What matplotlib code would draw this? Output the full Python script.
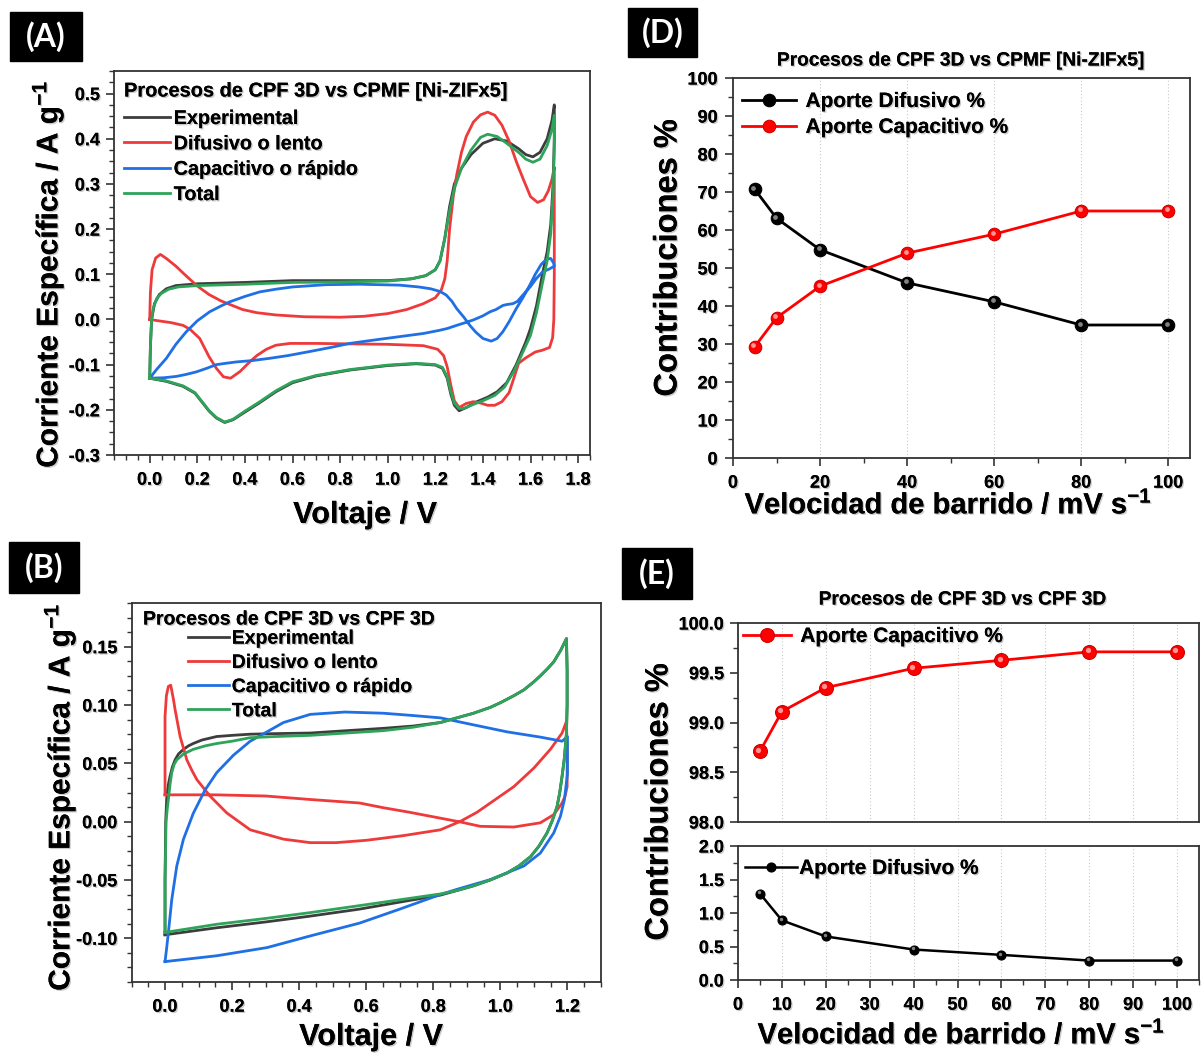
import matplotlib
matplotlib.use('Agg')
import matplotlib.pyplot as plt
from matplotlib.ticker import MultipleLocator, FormatStrFormatter
from matplotlib.patches import Rectangle
from matplotlib.transforms import ScaledTranslation
import matplotlib.patheffects as pe
from matplotlib.text import Text

plt.rcParams['font.family'] = ['Liberation Sans', 'DejaVu Sans']
plt.rcParams['font.weight'] = 'bold'
plt.rcParams['mathtext.fontset'] = 'custom'
plt.rcParams['mathtext.rm'] = 'Liberation Sans:bold'
plt.rcParams['mathtext.default'] = 'rm'

# ---------------- data: panel A (CPF 3D vs CPMF [Ni-ZIFx5]) ----------------
A_exp_V = [0.0, 0.003, 0.008, 0.02, 0.04, 0.07, 0.11, 0.2, 0.4, 0.6, 0.8, 1.0, 1.1, 1.16, 1.2, 1.22, 1.24, 1.26,
           1.28, 1.31, 1.35, 1.40, 1.45, 1.50, 1.55, 1.58, 1.61, 1.64, 1.67, 1.69, 1.70,
           1.70, 1.695, 1.685, 1.67, 1.65, 1.625, 1.60, 1.58, 1.54, 1.50, 1.46, 1.42, 1.37, 1.33, 1.30, 1.28,
           1.265, 1.25, 1.23, 1.20, 1.12, 1.0, 0.84, 0.7, 0.6, 0.53, 0.46, 0.40, 0.35, 0.315, 0.28, 0.25, 0.22,
           0.19, 0.14, 0.07, 0.0]
A_exp_I = [-0.13, -0.06, 0.0, 0.035, 0.055, 0.068, 0.075, 0.079, 0.082, 0.086, 0.086, 0.086, 0.09, 0.097, 0.11,
           0.13, 0.18, 0.25, 0.30, 0.335, 0.365, 0.39, 0.40, 0.395, 0.378, 0.365, 0.36, 0.37, 0.40, 0.44, 0.475,
           0.40, 0.30, 0.21, 0.15, 0.10, 0.03, -0.02, -0.05, -0.10, -0.14, -0.16, -0.172, -0.183, -0.195, -0.202,
           -0.19, -0.165, -0.13, -0.108, -0.101, -0.098, -0.102, -0.112, -0.125, -0.14, -0.16, -0.185, -0.205,
           -0.222, -0.228, -0.218, -0.203, -0.183, -0.163, -0.148, -0.137, -0.13]

A_dif_V = [0.0, 0.003, 0.01, 0.025, 0.045, 0.07, 0.11, 0.15, 0.2, 0.25, 0.3, 0.39, 0.45, 0.53, 0.65, 0.8, 0.9, 1.0,
           1.08, 1.15, 1.2, 1.225, 1.24, 1.25, 1.26, 1.275, 1.29, 1.31, 1.33, 1.36, 1.39, 1.42, 1.45, 1.48, 1.51,
           1.54, 1.57, 1.60, 1.63, 1.655, 1.675, 1.69, 1.70,
           1.70, 1.70, 1.698, 1.693, 1.68, 1.65, 1.62, 1.58, 1.55, 1.53, 1.51, 1.48, 1.45, 1.42, 1.39, 1.36, 1.33,
           1.30, 1.28, 1.265, 1.25, 1.235, 1.21, 1.15, 1.0, 0.84, 0.7, 0.59, 0.53, 0.49, 0.45, 0.42, 0.38, 0.34,
           0.31, 0.28, 0.25, 0.21, 0.17, 0.14, 0.09, 0.05, 0.0]
A_dif_I = [0.0, 0.06, 0.11, 0.136, 0.144, 0.135, 0.118, 0.098, 0.074, 0.055, 0.041, 0.022, 0.015, 0.01, 0.006,
           0.005, 0.007, 0.013, 0.022, 0.035, 0.048, 0.065, 0.09, 0.13, 0.2, 0.27, 0.32, 0.37, 0.405, 0.437, 0.453,
           0.459, 0.452, 0.43, 0.395, 0.35, 0.31, 0.272, 0.259, 0.265, 0.285, 0.31, 0.337,
           0.25, 0.10, 0.0, -0.04, -0.062, -0.068, -0.072, -0.085, -0.097, -0.13, -0.162, -0.182, -0.19, -0.19,
           -0.185, -0.182, -0.186, -0.195, -0.18, -0.145, -0.105, -0.08, -0.066, -0.058, -0.055, -0.054, -0.053,
           -0.053, -0.057, -0.066, -0.08, -0.094, -0.115, -0.13, -0.127, -0.108, -0.083, -0.042, -0.022, -0.013,
           -0.007, -0.004, 0.0]

A_cap_V = [0.0, 0.03, 0.07, 0.11, 0.154, 0.2, 0.252, 0.3, 0.336, 0.4, 0.462, 0.53, 0.6, 0.74, 0.88, 1.05, 1.13,
           1.18, 1.22, 1.246, 1.27, 1.29, 1.32, 1.345, 1.37, 1.40, 1.435, 1.46, 1.484, 1.51, 1.54, 1.57, 1.597,
           1.62, 1.645, 1.668, 1.685, 1.697, 1.70,
           1.68, 1.65, 1.625, 1.60, 1.568, 1.545, 1.526, 1.50, 1.484, 1.455, 1.43, 1.40, 1.36, 1.32, 1.29, 1.25,
           1.218, 1.15, 1.05, 0.95, 0.84, 0.76, 0.672, 0.58, 0.504, 0.43, 0.364, 0.32, 0.28, 0.24, 0.196, 0.15,
           0.112, 0.06, 0.0]
A_cap_I = [-0.13, -0.11, -0.086, -0.055, -0.027, -0.003, 0.017, 0.03, 0.039, 0.051, 0.061, 0.067, 0.072, 0.077,
           0.078, 0.076, 0.072, 0.068, 0.062, 0.054, 0.04, 0.024, 0.005, -0.013, -0.028, -0.042, -0.048, -0.042,
           -0.027, -0.005, 0.024, 0.05, 0.076, 0.1, 0.122, 0.134, 0.135, 0.125, 0.118,
           0.112, 0.105, 0.091, 0.073, 0.054, 0.04, 0.035, 0.033, 0.031, 0.022, 0.017, 0.008, -0.001, -0.008,
           -0.013, -0.02, -0.024, -0.031, -0.038, -0.045, -0.053, -0.062, -0.071, -0.08, -0.086, -0.091, -0.094,
           -0.097, -0.10, -0.108, -0.116, -0.122, -0.126, -0.129, -0.13]

A_tot_V = [0.0, 0.003, 0.008, 0.015, 0.03, 0.05, 0.08, 0.12, 0.2, 0.4, 0.6, 0.8, 1.0, 1.1, 1.16, 1.2, 1.22, 1.24,
           1.26, 1.28, 1.31, 1.35, 1.39, 1.42, 1.46, 1.50, 1.55, 1.58, 1.61, 1.64, 1.67, 1.69, 1.70,
           1.70, 1.695, 1.685, 1.67, 1.65, 1.625, 1.60, 1.57, 1.53, 1.49, 1.45, 1.40, 1.36, 1.32, 1.30, 1.28,
           1.265, 1.25, 1.23, 1.20, 1.12, 1.0, 0.84, 0.7, 0.6, 0.53, 0.46, 0.40, 0.35, 0.315, 0.28, 0.25, 0.22,
           0.19, 0.14, 0.07, 0.0]
A_tot_I = [-0.13, -0.06, 0.0, 0.025, 0.047, 0.058, 0.067, 0.072, 0.075, 0.078, 0.082, 0.083, 0.085, 0.09, 0.097,
           0.11, 0.13, 0.18, 0.24, 0.29, 0.335, 0.375, 0.403, 0.41, 0.405, 0.39, 0.37, 0.355, 0.348, 0.355, 0.385,
           0.42, 0.452,
           0.38, 0.28, 0.19, 0.13, 0.08, 0.015, -0.035, -0.07, -0.115, -0.15, -0.168, -0.18, -0.188, -0.197,
           -0.197, -0.185, -0.16, -0.127, -0.106, -0.100, -0.097, -0.101, -0.111, -0.124, -0.138, -0.158, -0.183,
           -0.203, -0.221, -0.227, -0.217, -0.202, -0.182, -0.162, -0.147, -0.136, -0.13]

# ---------------- data: panel B (CPF 3D vs CPF 3D) ----------------
B_exp_V = [0.0, 0.0, 0.002, 0.005, 0.01, 0.015, 0.022, 0.03, 0.04, 0.055, 0.07, 0.084, 0.11, 0.154, 0.2, 0.254,
           0.33, 0.433, 0.54, 0.65, 0.74, 0.821, 0.87, 0.92, 0.97, 1.0, 1.04, 1.07, 1.1, 1.119, 1.14, 1.159, 1.18,
           1.197,
           1.199, 1.199, 1.197, 1.191, 1.184, 1.177, 1.169, 1.155, 1.139, 1.115, 1.09, 1.055, 1.02, 0.97, 0.92,
           0.871, 0.821, 0.7, 0.58, 0.433, 0.3, 0.154, 0.0]
B_exp_I = [-0.097, -0.05, 0.0, 0.02, 0.032, 0.039, 0.047, 0.053, 0.058, 0.062, 0.065, 0.067, 0.070, 0.073, 0.074,
           0.075, 0.0755, 0.076, 0.078, 0.08, 0.082, 0.085, 0.089, 0.093, 0.098, 0.102, 0.108, 0.113, 0.12, 0.125,
           0.131, 0.137, 0.147, 0.157,
           0.13, 0.10, 0.076, 0.055, 0.039, 0.025, 0.013, 0.001, -0.0097, -0.021, -0.030, -0.038, -0.044, -0.050,
           -0.055, -0.059, -0.063, -0.069, -0.075, -0.081, -0.086, -0.091, -0.097]

B_dif_V = [0.0, 0.0, 0.004, 0.01, 0.017, 0.025, 0.03, 0.045, 0.065, 0.08, 0.095, 0.134, 0.184, 0.254, 0.353,
           0.433, 0.51, 0.6, 0.71, 0.821, 0.881, 0.93, 0.97, 1.04, 1.10, 1.149, 1.184, 1.197,
           1.199, 1.199, 1.193, 1.184, 1.159, 1.119, 1.04, 0.94, 0.881, 0.821, 0.73, 0.65, 0.58, 0.433, 0.3, 0.15,
           0.0]
B_dif_I = [0.023, 0.09, 0.108, 0.116, 0.117, 0.105, 0.096, 0.073, 0.053, 0.044, 0.036, 0.022, 0.0075, -0.007,
           -0.015, -0.018, -0.018, -0.016, -0.012, -0.007, 0.0003, 0.008, 0.016, 0.030, 0.046, 0.062, 0.076, 0.086,
           0.06, 0.030, 0.022, 0.016, 0.006, -0.001, -0.0046, -0.004, -0.0003, 0.003, 0.008, 0.012, 0.016, 0.019,
           0.022, 0.023, 0.023]

B_cap_V = [0.0, 0.005, 0.01, 0.02, 0.035, 0.055, 0.084, 0.119, 0.154, 0.204, 0.254, 0.304, 0.353, 0.433, 0.536,
           0.65, 0.74, 0.821, 0.92, 1.02, 1.119, 1.184, 1.2,
           1.2, 1.191, 1.179, 1.159, 1.119, 1.07, 0.97, 0.871, 0.821, 0.7, 0.58, 0.433, 0.304, 0.154, 0.0]
B_cap_I = [-0.12, -0.108, -0.095, -0.067, -0.038, -0.015, 0.007, 0.027, 0.042, 0.057, 0.069, 0.077, 0.085, 0.092,
           0.094, 0.093, 0.091, 0.089, 0.083, 0.077, 0.0725, 0.069, 0.073,
           0.041, 0.019, 0.0046, -0.0097, -0.027, -0.038, -0.0497, -0.058, -0.0625, -0.075, -0.087, -0.098,
           -0.108, -0.115, -0.12]

B_tot_V = [0.0, 0.0, 0.003, 0.007, 0.01, 0.015, 0.02, 0.027, 0.035, 0.055, 0.084, 0.12, 0.154, 0.2, 0.254, 0.33,
           0.433, 0.54, 0.65, 0.74, 0.821, 0.87, 0.92, 0.97, 1.0, 1.04, 1.07, 1.1, 1.119, 1.14, 1.159, 1.18, 1.197,
           1.199, 1.199, 1.197, 1.191, 1.184, 1.177, 1.169, 1.155, 1.139, 1.115, 1.09, 1.055, 1.02, 0.97, 0.92,
           0.871, 0.821, 0.7, 0.58, 0.433, 0.3, 0.154, 0.0]
B_tot_I = [-0.095, -0.05, 0.0, 0.012, 0.019, 0.032, 0.042, 0.049, 0.053, 0.058, 0.062, 0.065, 0.067, 0.069, 0.072,
           0.073, 0.074, 0.076, 0.078, 0.081, 0.085, 0.089, 0.093, 0.098, 0.102, 0.108, 0.113, 0.12, 0.125, 0.131,
           0.137, 0.147, 0.157,
           0.13, 0.10, 0.076, 0.055, 0.039, 0.025, 0.013, 0.001, -0.0097, -0.021, -0.030, -0.038, -0.044, -0.050,
           -0.055, -0.059, -0.062, -0.067, -0.072, -0.078, -0.083, -0.088, -0.095]

# ---------------- data: panels D and E ----------------
scan_rate = [5, 10, 20, 40, 60, 80, 100]
D_difusivo = [70.7, 63.1, 54.8, 46.1, 41.1, 35.0, 35.0]
D_capacitivo = [29.3, 36.9, 45.2, 53.9, 58.9, 65.0, 65.0]
E_capacitivo = [98.71, 99.11, 99.35, 99.545, 99.625, 99.71, 99.71]
E_difusivo = [1.29, 0.89, 0.65, 0.455, 0.375, 0.29, 0.29]

cv_labels = ['Experimental', 'Difusivo o lento', 'Capacitivo o rápido', 'Total']
title_A = 'Procesos de CPF 3D vs CPMF [Ni-ZIFx5]'
title_B = 'Procesos de CPF 3D vs CPF 3D'

C_EXP, C_DIF, C_CAP, C_TOT = '#3d3d3d', '#ee3a3a', '#1f6fe5', '#2ea35a'

W, H = 1201, 1053
fig = plt.figure(figsize=(W / 100, H / 100), dpi=100)


def box(l, t, r, b):
    return [l / W, 1 - b / H, (r - l) / W, (b - t) / H]


def fx(x):
    return x / W


def fy(y):
    return 1 - y / H


def style(ax, xmaj, xmin, ymaj, ymin, xfmt, yfmt, xpad=5, ypad=4):
    for s in ax.spines.values():
        s.set_color('#333333')
        s.set_linewidth(1.3)
    ax.tick_params(which='both', direction='out', top=False, right=False, colors='#333333',
                   labelcolor='black', labelsize=13)
    ax.tick_params(which='major', length=6, width=1.2)
    ax.tick_params(which='minor', length=3.5, width=1.0)
    ax.tick_params(axis='x', pad=xpad)
    ax.tick_params(axis='y', pad=ypad)
    ax.xaxis.set_major_locator(MultipleLocator(xmaj))
    ax.xaxis.set_minor_locator(MultipleLocator(xmin))
    ax.yaxis.set_major_locator(MultipleLocator(ymaj))
    ax.yaxis.set_minor_locator(MultipleLocator(ymin))
    ax.xaxis.set_major_formatter(FormatStrFormatter(xfmt))
    ax.yaxis.set_major_formatter(FormatStrFormatter(yfmt))


label_texts = []


def panel_label(l, t, r, b, txt):
    fig.patches.append(Rectangle((l / W, 1 - b / H), (r - l) / W, (b - t) / H,
                                 transform=fig.transFigure, color='black', zorder=5))
    tt = fig.text((l + r) / 2 / W, 1 - (t + b) / 2 / H, txt, color='white', ha='center', va='center',
                  fontsize=23, family=['Lato', 'DejaVu Sans'], weight='bold', zorder=6)
    label_texts.append(tt)


# ---------------- Panel A ----------------
axA = fig.add_axes(box(114, 71, 590, 455))
lA = []
for V, I, c, lab in [(A_exp_V, A_exp_I, C_EXP, cv_labels[0]), (A_dif_V, A_dif_I, C_DIF, cv_labels[1]),
                     (A_cap_V, A_cap_I, C_CAP, cv_labels[2]), (A_tot_V, A_tot_I, C_TOT, cv_labels[3])]:
    ln, = axA.plot(V, I, color=c, lw=2.0, label=lab, solid_joinstyle='round')
    lA.append(ln)
axA.set_xlim(-0.15, 1.85)
axA.set_ylim(-0.3, 0.55)
style(axA, 0.2, 0.05, 0.1, 0.025, '%.1f', '%.1f', xpad=6, ypad=4)
axA.legend(handles=lA, loc='upper left', bbox_to_anchor=(fx(124), fy(109)), bbox_transform=fig.transFigure,
           frameon=False, borderpad=0, borderaxespad=0, handlelength=2.3, handletextpad=0.2,
           labelspacing=0.32, prop={'size': 14.3, 'weight': 'bold'})
fig.text(fx(124), fy(91), title_A, ha='left', va='center', fontsize=14.4, weight='bold')
fig.text(fx(48), fy(274), 'Corriente Específica / A g$^{-1}$', rotation=90, ha='center', va='center',
         fontsize=21.5, weight='bold')
fig.text(fx(365), fy(515), 'Voltaje / V', ha='center', va='center', fontsize=22, weight='bold')
panel_label(10, 12, 82, 61, '(A)')

# ---------------- Panel B ----------------
axB = fig.add_axes(box(131.5, 603, 601, 982))
lB = []
for V, I, c, lab in [(B_exp_V, B_exp_I, C_EXP, cv_labels[0]), (B_dif_V, B_dif_I, C_DIF, cv_labels[1]),
                     (B_cap_V, B_cap_I, C_CAP, cv_labels[2]), (B_tot_V, B_tot_I, C_TOT, cv_labels[3])]:
    ln, = axB.plot(V, I, color=c, lw=2.0, label=lab, solid_joinstyle='round')
    lB.append(ln)
axB.set_xlim(-0.1, 1.3)
axB.set_ylim(-0.1375, 0.1875)
style(axB, 0.2, 0.05, 0.05, 0.0125, '%.1f', '%.2f', xpad=6, ypad=4)
axB.legend(handles=lB, loc='upper left', bbox_to_anchor=(fx(188), fy(630)), bbox_transform=fig.transFigure,
           frameon=False, borderpad=0, borderaxespad=0, handlelength=2.1, handletextpad=0.15,
           labelspacing=0.34, prop={'size': 14, 'weight': 'bold'})
fig.text(fx(143), fy(620), title_B, ha='left', va='center', fontsize=14, weight='bold')
fig.text(fx(60), fy(797), 'Corriente Específica / A g$^{-1}$', rotation=90, ha='center', va='center',
         fontsize=21.5, weight='bold')
fig.text(fx(371), fy(1037), 'Voltaje / V', ha='center', va='center', fontsize=22, weight='bold')
panel_label(9, 542, 79, 593, '(B)')


def ball_line(ax, x, y, color, edge, hl, ms, lw, label):
    ln, = ax.plot(x, y, color=color, lw=lw, marker='o', ms=ms, mfc=color, mec=edge, mew=0.8, label=label,
                  zorder=3)
    off = ScaledTranslation(-ms * 0.12 / 72, ms * 0.12 / 72, fig.dpi_scale_trans)
    ax.plot(x, y, ls='none', marker='o', ms=ms * 0.38, mfc=hl, mec='none', alpha=0.85,
            transform=ax.transData + off, zorder=4)
    return ln


# ---------------- Panel D ----------------
axD = fig.add_axes(box(733, 78, 1190, 458))
axD.set_axisbelow(True)
axD.grid(True, axis='x', which='major', linestyle=(0, (1, 2)), color='#c8c8c8', lw=0.8)
hD1 = ball_line(axD, scan_rate, D_difusivo, '#000000', '#000000', '#9a9a9a', 9, 2.0, 'Aporte Difusivo %')
hD2 = ball_line(axD, scan_rate, D_capacitivo, '#ff0000', '#d00000', '#ffb0b0', 9, 2.0, 'Aporte Capacitivo %')
axD.set_xlim(0, 105)
axD.set_ylim(0, 100)
style(axD, 20, 10, 10, 5, '%d', '%d', xpad=6, ypad=5)
axD.legend(handles=[hD1, hD2], loc='upper left', bbox_to_anchor=(fx(742), fy(92)),
           bbox_transform=fig.transFigure, frameon=False, borderpad=0, borderaxespad=0, numpoints=1,
           handlelength=2.6, handletextpad=0.45, labelspacing=0.33, prop={'size': 15, 'weight': 'bold'})
fig.text(fx(960), fy(61), title_A, ha='center', va='center', fontsize=13.8, weight='bold')
fig.text(fx(668), fy(258), 'Contribuciones %', rotation=90, ha='center', va='center', fontsize=23.5,
         weight='bold')
fig.text(fx(948), fy(505), 'Velocidad de barrido / mV s$^{-1}$', ha='center', va='center', fontsize=21,
         weight='bold')
panel_label(628, 8, 697, 57, '(D)')

# ---------------- Panel E ----------------
axE1 = fig.add_axes(box(738, 623, 1199, 822))
axE2 = fig.add_axes(box(738, 846, 1199, 980))
for ax in (axE1, axE2):
    ax.set_axisbelow(True)
    ax.grid(True, axis='x', which='major', linestyle=(0, (1, 2)), color='#c8c8c8', lw=0.8)
hE1 = ball_line(axE1, scan_rate, E_capacitivo, '#ff0000', '#d00000', '#ffb0b0', 10, 2.0, 'Aporte Capacitivo %')
hE2 = ball_line(axE2, scan_rate, E_difusivo, '#000000', '#000000', '#9a9a9a', 6.5, 1.8, 'Aporte Difusivo %')
axE1.set_xlim(0, 105)
axE2.set_xlim(0, 105)
axE1.set_ylim(98.0, 100.0)
axE2.set_ylim(0.0, 2.0)
style(axE1, 10, 5, 0.5, 0.25, '%d', '%.1f', xpad=6, ypad=4)
style(axE2, 10, 5, 0.5, 0.25, '%d', '%.1f', xpad=6, ypad=4)
axE1.tick_params(axis='x', which='both', bottom=False, labelbottom=False)
axE1.legend(handles=[hE1], loc='upper left', bbox_to_anchor=(fx(743), fy(627)),
            bbox_transform=fig.transFigure, frameon=False, borderpad=0, borderaxespad=0, numpoints=1,
            handlelength=2.3, handletextpad=0.45, prop={'size': 15, 'weight': 'bold'})
axE2.legend(handles=[hE2], loc='upper left', bbox_to_anchor=(fx(745), fy(859)),
            bbox_transform=fig.transFigure, frameon=False, borderpad=0, borderaxespad=0, numpoints=1,
            handlelength=2.5, handletextpad=0.1, prop={'size': 15, 'weight': 'bold'})
fig.text(fx(962), fy(600), title_B, ha='center', va='center', fontsize=13.8, weight='bold')
fig.text(fx(659), fy(802), 'Contribuciones %', rotation=90, ha='center', va='center', fontsize=23.5,
         weight='bold')
fig.text(fx(961), fy(1035), 'Velocidad de barrido / mV s$^{-1}$', ha='center', va='center', fontsize=21,
         weight='bold')
panel_label(622, 548, 692, 599, '(E)')

# subtle drop shadow on the black texts, as in the original figure
fig.canvas.draw()
shadow = [pe.withSimplePatchShadow(offset=(1.0, -1.0), shadow_rgbFace='#8a8a8a', alpha=0.45), pe.Normal()]
for t in fig.findobj(Text):
    if t.get_text() and t not in label_texts:
        t.set_path_effects(shadow)

fig.savefig('out.png', dpi=100)
